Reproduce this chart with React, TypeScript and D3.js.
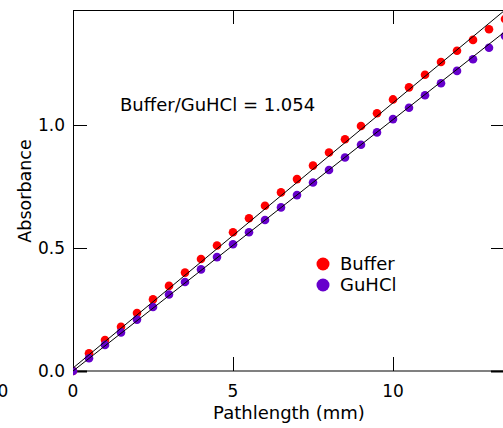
import React from 'react';
import * as d3 from 'd3';

// pathlength (mm) for each measured point
const pathlength = [0, 0.5, 1, 1.5, 2, 2.5, 3, 3.5, 4, 4.5, 5, 5.5, 6, 6.5, 7, 7.5, 8, 8.5, 9, 9.5, 10, 10.5, 11, 11.5, 12, 12.5, 13, 13.5];

const bufferAbs = [0, 0.072, 0.126, 0.180, 0.236, 0.291, 0.346, 0.400, 0.455, 0.510, 0.564, 0.621, 0.672, 0.726,
  0.780, 0.835, 0.888, 0.942, 0.996, 1.048, 1.104, 1.153, 1.204, 1.256, 1.302, 1.346, 1.389, 1.431];

const guhclAbs = [0, 0.052, 0.106, 0.157, 0.209, 0.260, 0.311, 0.362, 0.413, 0.463, 0.515, 0.564, 0.614, 0.665,
  0.715, 0.766, 0.817, 0.868, 0.920, 0.970, 1.024, 1.070, 1.121, 1.170, 1.220, 1.267, 1.314, 1.362];

// linear fits (slope, intercept)
const bufferFit = { slope: 0.1078, intercept: 0.012 };
const guhclFit = { slope: 0.1022, intercept: 0.0 };

const xTicks = [0, 5, 10];
const yTicks = [0, 0.5, 1.0];

const series = [
  { name: 'Buffer', color: '#ff0000', values: bufferAbs, fit: bufferFit },
  { name: 'GuHCl', color: '#6600cc', values: guhclAbs, fit: guhclFit },
];

const W = 503;
const H = 428;
const left = 73;
const top = 10;
const right = 505;
const bottom = 371;
const font = '"DejaVu Sans", Verdana, sans-serif';

export default function App() {
  const x = d3.scaleLinear().domain([0, 13.5]).range([left, right]);
  const y = d3.scaleLinear().domain([0, 1.4675]).range([bottom, top]);
  const tick = 14;

  const fitLine = (f: { slope: number; intercept: number }) => {
    const xs = x.domain();
    return d3.line<number>()
      .x(d => x(d))
      .y(d => y(f.intercept + f.slope * d))(xs);
  };

  return (
    <svg width={W} height={H} style={{ position: 'absolute', left: 0, top: 0, background: '#fff' }}
      fontFamily={font}>
      <defs>
        <clipPath id="plot">
          <rect x={left} y={top} width={right - left} height={bottom - top + 6} />
        </clipPath>
      </defs>

      {/* frame */}
      <line x1={left} x2={right} y1={bottom} y2={bottom} stroke="#808080" strokeWidth={2} />
      <line x1={left} x2={right} y1={top + 0.5} y2={top + 0.5} stroke="#000" strokeWidth={1} />
      <line x1={left + 0.5} x2={left + 0.5} y1={top} y2={bottom} stroke="#000" strokeWidth={1} />
      <line x1={right + 0.5} x2={right + 0.5} y1={top} y2={bottom} stroke="#000" strokeWidth={1} />

      {xTicks.map(t => (
        <g key={'x' + t}>
          <line x1={Math.round(x(t)) + 0.5} x2={Math.round(x(t)) + 0.5} y1={bottom} y2={bottom - tick} stroke="#000" />
          <line x1={Math.round(x(t)) + 0.5} x2={Math.round(x(t)) + 0.5} y1={top} y2={top + tick} stroke="#000" />
          <text x={x(t)} y={397} textAnchor="middle" fontSize={17} fill="#000">{t}</text>
        </g>
      ))}
      {yTicks.map(t => (
        <g key={'y' + t}>
          <line x1={left} x2={left + tick} y1={Math.round(y(t)) + 0.5} y2={Math.round(y(t)) + 0.5} stroke="#000" strokeWidth={t === 0 ? 2 : 1} />
          <line x1={right} x2={right - tick} y1={Math.round(y(t)) + 0.5} y2={Math.round(y(t)) + 0.5} stroke="#000" strokeWidth={t === 0 ? 2 : 1} />
          <text x={65} y={y(t) + 6} textAnchor="end" fontSize={17} fill="#000">{t.toFixed(1)}</text>
        </g>
      ))}

      {/* stray label from neighbouring panel, cut off at the edge as in the source */}
      <text x={3} y={397} textAnchor="middle" fontSize={17} fill="#000">0</text>

      <text x={289} y={419} textAnchor="middle" fontSize={18} fill="#000">Pathlength (mm)</text>
      <text transform="translate(31, 191) rotate(-90)" textAnchor="middle" fontSize={17.5} fill="#000">Absorbance</text>

      <text x={120} y={111} fontSize={18} fill="#000">Buffer/GuHCl = 1.054</text>

      <g clipPath="url(#plot)">
        {series.map(s => (
          <g key={s.name}>
            {s.values.map((v, i) => (
              <circle key={i} cx={x(pathlength[i])} cy={y(v)} r={4.3} fill={s.color} />
            ))}
          </g>
        ))}
        {series.map(s => (
          <path key={s.name + 'fit'} d={fitLine(s.fit) || ''} fill="none" stroke="#000" strokeWidth={1} />
        ))}
      </g>

      {/* legend */}
      {series.map((s, i) => (
        <g key={s.name + 'leg'} transform={`translate(323, ${264 + i * 21})`}>
          <circle cx={0} cy={0} r={6.5} fill={s.color} />
          <text x={17} y={6} fontSize={18} fill="#000">{s.name}</text>
        </g>
      ))}
    </svg>
  );
}
